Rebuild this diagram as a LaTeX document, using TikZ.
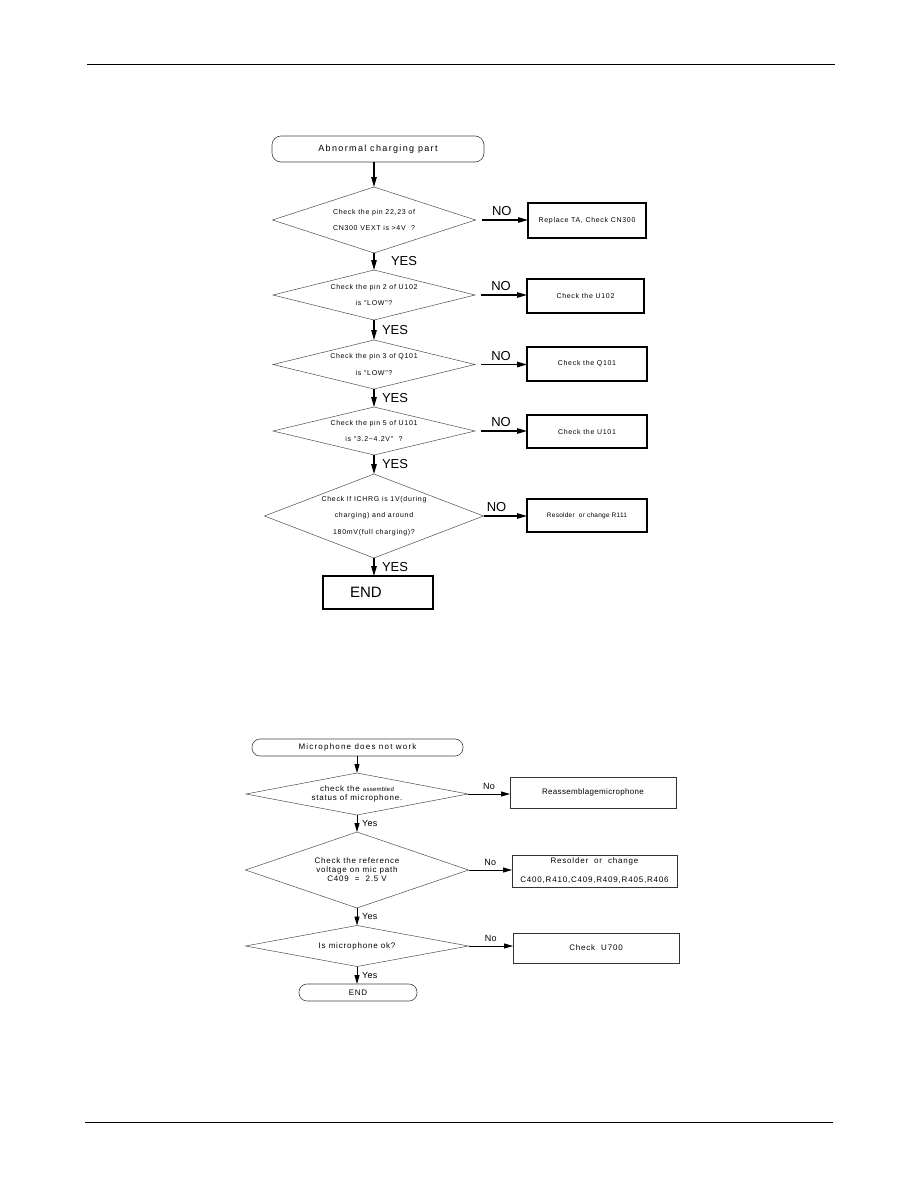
\documentclass[tikz,border=0pt]{standalone}
\usepackage{fontspec}
\setmainfont{Liberation Sans}
\newfontfamily\widefont[LetterSpace=10]{Liberation Sans}
\newfontfamily\startfont[LetterSpace=15]{Liberation Sans}
\newfontfamily\tightfont[LetterSpace=4]{Liberation Sans}
\usetikzlibrary{shapes.geometric,arrows.meta}

\tikzset{
  term/.style={draw=black!75, line width=0.6pt, rounded corners=9pt},
  check/.style={draw=black!70, line width=0.5pt, diamond},
  fix/.style={draw, line width=1.1pt},
  fixthin/.style={draw=black!80, line width=0.7pt},
  flow/.style={-{Triangle[length=10pt,width=5.5pt]}, line width=1.1pt},
  flowthin/.style={-{Triangle[length=9pt,width=5pt]}, line width=0.9pt},
  qtext/.style={font=\widefont\fontsize{7}{16.5}\selectfont, align=center},
  mtext/.style={font=\widefont\fontsize{8}{9}\selectfont, align=center},
  answer/.style={font=\fontsize{13}{13}\selectfont},
  reply/.style={font=\tightfont\fontsize{9}{9}\selectfont}
}

\begin{document}
\begin{tikzpicture}[x=1pt, y=-1pt, every node/.style={outer sep=0pt, inner sep=0pt}]
  \useasboundingbox (0,0) rectangle (918,1188);
  % page rules
  \draw[line width=0.9pt] (87,64) -- (835,64);
  \draw[line width=0.9pt] (85,1122) -- (833,1122);

  % charging chart
  \node[term, minimum width=212pt, minimum height=26pt,
        font=\startfont\fontsize{9}{9}\selectfont] (start) at (378,149) {Abnormal charging part};

  \node[check, minimum width=203pt, minimum height=66pt,
        label={[qtext]center:{Check the pin 22,23 of\\CN300 VEXT is >4V ~?}}] (d1) at (374,220) {};
  \node[fix, minimum width=118pt, minimum height=35pt, qtext] (b1) at (587,220.5) {Replace TA, Check CN300};

  \node[check, minimum width=202pt, minimum height=50pt,
        label={[qtext]center:{Check the pin 2 of U102\\is "LOW"?}}] (d2) at (374,295) {};
  \node[fix, minimum width=117pt, minimum height=34pt, qtext] (b2) at (585.5,296) {Check the U102};

  \node[check, minimum width=202pt, minimum height=49pt,
        label={[qtext]center:{Check the pin 3 of Q101\\is "LOW"?}}] (d3) at (374,364.5) {};
  \node[fix, minimum width=120pt, minimum height=34pt, qtext] (b3) at (587,364) {Check the Q101};

  \node[check, minimum width=202pt, minimum height=48pt,
        label={[qtext]center:{Check the pin 5 of U101\\is "3.2\textasciitilde4.2V" ~?}}] (d4) at (374,431) {};
  \node[fix, minimum width=120pt, minimum height=33pt, qtext] (b4) at (587,431.5) {Check the U101};

  \node[check, minimum width=219pt, minimum height=84pt,
        label={[qtext]center:{Check If ICHRG is 1V(during\\charging) and around\\180mV(full charging)?}}] (d5) at (374,516) {};
  \node[fix, minimum width=120pt, minimum height=33pt, qtext,
        font=\tightfont\fontsize{6.5}{8}\selectfont] (b5) at (587,515.5) {Resolder~~or change R111};

  \node[fix, minimum width=110pt, minimum height=33pt, inner xsep=27pt, text width=56pt,
        align=left, font=\fontsize{15}{15}\selectfont] (end1) at (378,592.5) {END};

  \draw[flow] (start.south -| d1.north) -- (d1.north);
  \draw[flow, shorten <=6pt] (d1.east) -- (d1.east -| b1.west) node[answer, midway, above=4pt] {NO};
  \draw[flow] (d1.south) -- (d2.north) node[answer, midway, right=17pt] {YES};
  \draw[flow, shorten <=6pt] (d2.east) -- (d2.east -| b2.west) node[answer, midway, above=4pt] {NO};
  \draw[flow] (d2.south) -- (d3.north) node[answer, midway, right=8pt] {YES};
  \draw[flow, shorten <=6pt] (d3.east) -- (d3.east -| b3.west) node[answer, midway, above=4pt] {NO};
  \draw[flow] (d3.south) -- (d4.north) node[answer, midway, right=8pt] {YES};
  \draw[flow, shorten <=6pt] (d4.east) -- (d4.east -| b4.west) node[answer, midway, above=4pt] {NO};
  \draw[flow] (d4.south) -- (d5.north) node[answer, midway, right=8pt] {YES};
  \draw[flow] (d5.east) -- (d5.east -| b5.west) node[answer, pos=0.3, above=4pt] {NO};
  \draw[flow] (d5.south) -- (d5.south |- end1.north) node[answer, midway, right=8pt] {YES};

  % microphone chart
  \node[term, rounded corners=8pt, minimum width=211pt, minimum height=17pt,
        font=\startfont\fontsize{8}{8}\selectfont] (mstart) at (357.5,747.5) {Microphone does not work};

  \node[check, minimum width=222pt, minimum height=42pt,
        label={[mtext]center:{check the {\tightfont\fontsize{6}{9}\selectfont assembled}\\status of microphone.}}] (da) at (357,794) {};
  \node[fixthin, minimum width=166pt, minimum height=31pt,
        font=\tightfont\fontsize{8}{9}\selectfont] (ba) at (593,792.5) {Reassemblagemicrophone};

  \node[check, minimum width=223pt, minimum height=76pt,
        label={[mtext]center:{Check the reference\\voltage on mic path\\C409~~=~~2.5 V}}] (db) at (357,870) {};
  \node[fixthin, minimum width=165pt, minimum height=32pt, align=center,
        font=\widefont\fontsize{8}{19}\selectfont] (bb) at (594.5,871) {Resolder~~or~~change\\C400,R410,C409,R409,R405,R406};

  \node[check, minimum width=223pt, minimum height=41pt,
        label={[mtext]center:{Is microphone ok?}}] (dc) at (357,946) {};
  \node[fixthin, minimum width=166pt, minimum height=30pt, mtext] (bc) at (596,948) {Check~~U700};

  \node[term, rounded corners=8pt, minimum width=118pt, minimum height=17pt, mtext] (mend) at (358,992.5) {END};

  \draw[flowthin] (mstart.south -| da.north) -- (da.north);
  \draw[flowthin] (da.east) -- (da.east -| ba.west) node[reply, midway, above=4pt] {No};
  \draw[flowthin] (da.south) -- (db.north) node[reply, midway, right=5pt] {Yes};
  \draw[flowthin] (db.east) -- (db.east -| bb.west) node[reply, midway, above=4pt] {No};
  \draw[flowthin] (db.south) -- (dc.north) node[reply, midway, right=5pt] {Yes};
  \draw[flowthin] (dc.east) -- (dc.east -| bc.west) node[reply, midway, above=4pt] {No};
  \draw[flowthin] (dc.south) -- (dc.south |- mend.north) node[reply, midway, right=5pt] {Yes};
\end{tikzpicture}
\end{document}
